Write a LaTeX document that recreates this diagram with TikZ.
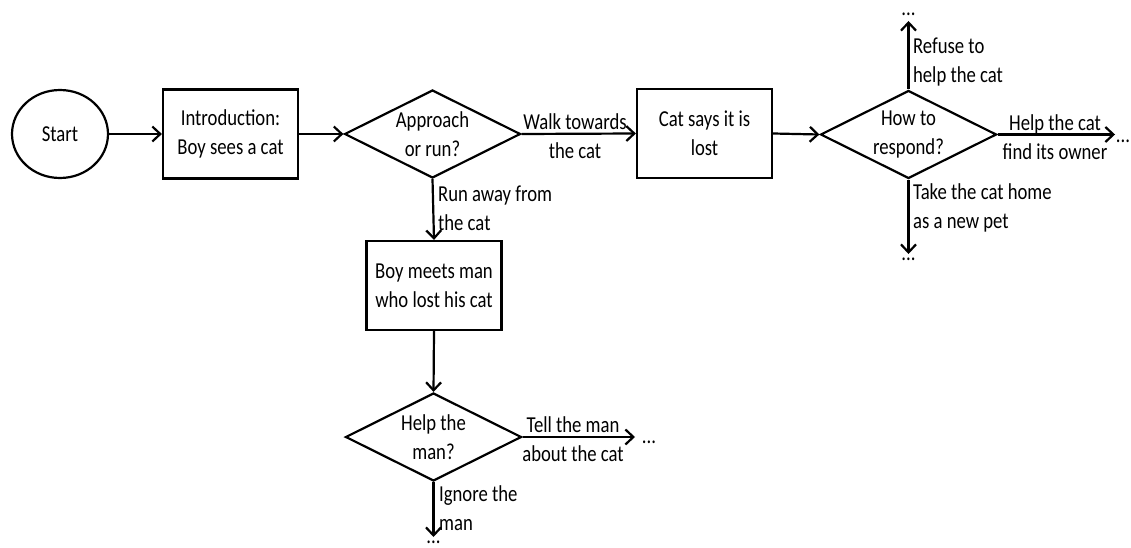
\documentclass[tikz,border=0pt]{standalone}
\usepackage{fontspec}
\setmainfont{Carlito}[FakeStretch=0.82]
\usetikzlibrary{arrows.meta,shapes.geometric}
\begin{document}
\begin{tikzpicture}[x=1pt,y=-1pt,line width=2.2pt,
  every node/.style={font=\fontsize{22.8}{29}\selectfont,align=center},
  startnode/.style={ellipse,draw,minimum width=96pt,minimum height=88pt,inner sep=0pt},
  procbox/.style={rectangle,draw,minimum width=135pt,minimum height=89pt,inner sep=0pt},
  decision/.style={diamond,draw,aspect=2,minimum width=176pt,minimum height=88pt,inner sep=0pt},
  flow/.style={-{Straight Barb[length=8pt,width=15pt]},line width=2.2pt},
  edgelabel/.style={inner sep=0pt},
  sidelabel/.style={inner sep=0pt,anchor=west,align=left},
  more/.style={inner sep=0pt}
]
\useasboundingbox (0,0) rectangle (1131,548);

% main nodes
\node[startnode] (start) at (60,134) {Start};
\node[procbox] (intro) at (230.5,134) {Introduction:\\Boy sees a cat};
\node[decision] (d1) at (432.5,134) {Approach\\or run?};
\node[procbox] (lost) at (704.5,133.5) {Cat says it is\\lost};
\node[decision] (d2) at (908.5,134.5) {How to\\respond?};
\node[procbox] (meet) at (434,285.5) {Boy meets man\\who lost his cat};
\node[decision] (d3) at (433.5,437) {Help the\\man?};

% continuation marks
\node[more] (e1) at (908.5,14) {...};
\node[more] (e2) at (1123,141) {...};
\node[more] (e3) at (908.5,259) {...};
\node[more] (e4) at (649,442) {...};
\node[more] (e5) at (433.5,542) {...};

% free arrow ends
\coordinate (t1) at (908.5,21);
\coordinate (t2) at (1115,134.5);
\coordinate (t3) at (908.5,254);
\coordinate (t4) at (635,437);
\coordinate (t5) at (433.5,537);

% connectors
\draw[flow] (start.east) -- (intro.west);
\draw[flow] (intro.east) -- (d1.west);
\draw[flow] (d1.east) -- (lost.west);
\draw[flow] (lost.east) -- (d2.west);
\draw[flow] (d2.north) -- (t1);
\draw[flow] (d2.east) -- (t2);
\draw[flow] (d2.south) -- (t3);
\draw[flow] (d1.south) -- (meet.north);
\draw[flow] (meet.south) -- (d3.north);
\draw[flow] (d3.east) -- (t4);
\draw[flow] (d3.south) -- (t5);

% connector labels
\node[edgelabel] (l1) at (575,136) {Walk towards\\the cat};
\node[edgelabel] (l2) at (1055,137) {Help the cat\\find its owner};
\node[edgelabel] (l3) at (573,439) {Tell the man\\about the cat};
\node[sidelabel] (l4) at (912,62) {Refuse to\\help the cat};
\node[sidelabel] (l5) at (912,208) {Take the cat home\\as a new pet};
\node[sidelabel] (l6) at (437,208) {Run away from\\the cat};
\node[sidelabel] (l7) at (438,508) {Ignore the\\man};
\end{tikzpicture}
\end{document}
